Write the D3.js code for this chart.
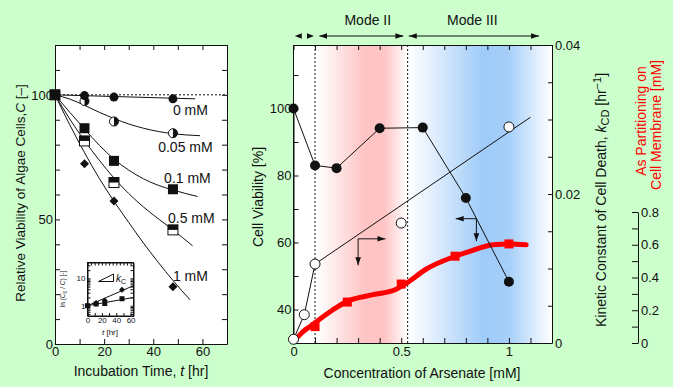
<!DOCTYPE html>
<html>
<head>
<meta charset="utf-8">
<script src="https://cdn.jsdelivr.net/npm/d3@7"></script>
<style>
body { margin: 0; background: #ccffcc; }
svg text { font-family: "Liberation Sans", Arial, sans-serif; fill: #111; }
</style>
</head>
<body>
<svg id="chart" width="673" height="387"></svg>
<script>
// ---- left panel: viability vs incubation time ----
const incubationTimes = [0, 12, 24, 48];
const viab0mM = [100, 99.7, 99.1, 98.4];
const viab005mM = [100, 97.5, 89.3, 84.6];
const viab01mM = [100, 86.6, 73.5, 62.1];
const viab05mM = [100, 81.5, 64.8, 45.8];
const viab1mM = [100, 72.3, 57.4, 23];

// fitted curves as [t, C]
const fit0mM = [[0, 100], [57, 98.4]];
const fit005mM = [[0, 100], [6, 98.3], [12, 95.8], [18, 93], [24, 90.5], [30, 88.3], [36, 86.6], [42, 85.3], [48, 84.4], [59, 83.6]];
const fit01mM = [[0, 100], [6, 93], [12, 86.3], [18, 79.8], [24, 74.2], [30, 69.8], [36, 66.3], [42, 63.7], [48, 61.8], [58, 59.2]];
const fit05mM = [[0, 100], [6, 90.3], [12, 81.6], [18, 73.8], [24, 66.6], [30, 60.4], [36, 55], [42, 50.3], [48, 45.8], [56, 39.4]];
const fit1mM = [[0, 100], [6, 88], [12, 76.8], [18, 66.5], [24, 57.3], [30, 48.8], [36, 40.5], [42, 32.8], [48, 25.5], [55, 17.7]];

const concLabels = ["0 mM", "0.05 mM", "0.1 mM", "0.5 mM", "1 mM"];
const concLabelPos = [[48, 92], [42, 77], [44.4, 64.7], [46, 48.6], [48, 25.3]];

// inset: ln(C0/C) vs t
const insetTimes = [0, 12, 24, 48];
const insetDiamond = [1, 1.25, 1.55, 3.8];
const insetSquare = [1, 1.15, 1.2, 1.8];
const insetLineDiamond = [[0, 1], [64, 5.4]];
const insetLineSquare = [[0, 1], [64, 2]];

// ---- right panel: vs arsenate concentration ----
const viabConc = [0, 0.1, 0.2, 0.4, 0.6, 0.8, 1.0];
const cellViability = [100, 83, 82.2, 94.1, 94.3, 73.3, 48.3];
const kcdConc = [0, 0.05, 0.1, 0.5, 1.0];
const kcdValues = [0.0005, 0.0038, 0.0106, 0.0161, 0.029];
const kcdFit = [[0.1, 0.0106], [1.1, 0.0303]];
const partConc = [0.1, 0.25, 0.5, 0.75, 1.0];
const partValues = [0.1, 0.25, 0.36, 0.53, 0.605];
const partCurve = [[0.015, 0.03], [0.046, 0.071], [0.077, 0.101], [0.108, 0.132], [0.18, 0.2], [0.247, 0.254], [0.37, 0.295], [0.479, 0.33], [0.525, 0.366], [0.617, 0.452], [0.741, 0.525], [0.818, 0.56], [0.926, 0.6], [1.0, 0.605], [1.08, 0.6]];
const modeBounds = [0.1, 0.53];

const svg = d3.select("#chart");
const defs = svg.append("defs");

defs.append("marker")
    .attr("id", "head")
    .attr("viewBox", "0 0 10 10")
    .attr("refX", 10).attr("refY", 5)
    .attr("markerWidth", 8).attr("markerHeight", 8)
    .attr("markerUnits", "userSpaceOnUse")
    .attr("orient", "auto-start-reverse")
    .append("path")
    .attr("d", "M0,1.5 L10,5 L0,8.5 Z")
    .attr("fill", "#111");

// ================= LEFT PANEL =================
const xL = d3.scaleLinear().domain([0, 70]).range([55, 227]);
const yL = d3.scaleLinear().domain([0, 120]).range([344, 45]);

svg.append("rect")
    .attr("x", 55).attr("y", 45)
    .attr("width", 172).attr("height", 299)
    .attr("fill", "white");

const leftG = svg.append("g");

leftG.append("g")
    .attr("transform", "translate(0,344)")
    .call(d3.axisBottom(xL).tickValues(d3.range(0, 71, 10)).tickSizeInner(-5).tickSizeOuter(0).tickPadding(3)
        .tickFormat(d => (d % 20 === 0 && d < 70) ? d : ""));
leftG.append("g")
    .attr("transform", "translate(0,45)")
    .call(d3.axisTop(xL).tickValues(d3.range(0, 71, 10)).tickSizeInner(-5).tickSizeOuter(0).tickFormat(""));
leftG.append("g")
    .attr("transform", "translate(55,0)")
    .call(d3.axisLeft(yL).tickValues(d3.range(0, 121, 10)).tickSizeInner(-5).tickSizeOuter(0).tickPadding(2)
        .tickFormat(d => d % 50 === 0 && d < 120 ? d : ""));
leftG.append("g")
    .attr("transform", "translate(227,0)")
    .call(d3.axisRight(yL).tickValues(d3.range(0, 121, 10)).tickSizeInner(-5).tickSizeOuter(0).tickFormat(""));

leftG.selectAll(".tick text").style("font-size", "13px").attr("fill", "#111");
leftG.selectAll(".domain, .tick line").attr("stroke", "#111");

// dashed 100 % line
leftG.append("line")
    .attr("x1", xL(0)).attr("x2", xL(70))
    .attr("y1", yL(100)).attr("y2", yL(100))
    .attr("stroke", "#111").attr("stroke-dasharray", "2,2");

const lineL = d3.line().x(d => xL(d[0])).y(d => yL(d[1])).curve(d3.curveMonotoneX);
[fit0mM, fit005mM, fit01mM, fit05mM, fit1mM].forEach(fit => {
    leftG.append("path")
        .attr("d", lineL(fit))
        .attr("fill", "none")
        .attr("stroke", "#111")
        .attr("stroke-width", 1);
});

// markers
function drawMarkers(g, values, kind) {
    const pts = incubationTimes.map((t, i) => [xL(t), yL(values[i])]);
    const m = g.selectAll(null).data(pts).enter().append("g")
        .attr("transform", d => `translate(${d[0]},${d[1]})`);
    if (kind === "circle") {
        m.append("circle").attr("r", 4.5).attr("fill", "#111");
    } else if (kind === "halfcircle") {
        m.append("circle").attr("r", 4.5).attr("fill", "white").attr("stroke", "#111");
        m.append("path").attr("d", "M0,-4.5 A4.5,4.5 0 0 1 0,4.5 Z").attr("fill", "#111");
    } else if (kind === "square") {
        m.append("rect").attr("x", -5).attr("y", -5).attr("width", 10).attr("height", 10).attr("fill", "#111");
    } else if (kind === "halfsquare") {
        m.append("rect").attr("x", -5).attr("y", -5).attr("width", 10).attr("height", 10)
            .attr("fill", "white").attr("stroke", "#111");
        m.append("rect").attr("x", -5).attr("y", -5).attr("width", 10).attr("height", 5).attr("fill", "#111");
    } else if (kind === "diamond") {
        m.append("path").attr("d", "M0,-4.5 L4.5,0 L0,4.5 L-4.5,0 Z").attr("fill", "#111");
    }
}
drawMarkers(leftG, viab1mM, "diamond");
drawMarkers(leftG, viab05mM, "halfsquare");
drawMarkers(leftG, viab005mM, "halfcircle");
drawMarkers(leftG, viab0mM, "circle");
drawMarkers(leftG, viab01mM, "square");

leftG.selectAll(null).data(concLabels).enter().append("text")
    .attr("x", (d, i) => xL(concLabelPos[i][0]))
    .attr("y", (d, i) => yL(concLabelPos[i][1]))
    .style("font-size", "14px")
    .text(d => d);

// ---- inset ----
const xI = d3.scaleLinear().domain([0, 64]).range([87.5, 133.5]);
const yI = d3.scaleLog().domain([0.42, 38]).range([316, 262.5]);
const inset = svg.append("g");
inset.append("rect")
    .attr("x", 87.5).attr("y", 262.5).attr("width", 46).attr("height", 53.5)
    .attr("fill", "white").attr("stroke", "#111");

const logTicks = [0.5, 0.6, 0.7, 0.8, 0.9, 1, 2, 3, 4, 5, 6, 7, 8, 9, 10, 20, 30];
inset.append("g").attr("transform", "translate(87.5,0)")
    .call(d3.axisLeft(yI).tickValues(logTicks).tickSizeInner(-3).tickSizeOuter(0).tickPadding(2)
        .tickFormat(d => (d === 1 || d === 10) ? d : ""));
inset.append("g").attr("transform", "translate(133.5,0)")
    .call(d3.axisRight(yI).tickValues(logTicks).tickSizeInner(-3).tickSizeOuter(0).tickFormat(""));
inset.append("g").attr("transform", "translate(0,316)")
    .call(d3.axisBottom(xI).tickValues(d3.range(0, 61, 10)).tickSizeInner(-3).tickSizeOuter(0).tickPadding(1)
        .tickFormat(d => d % 20 === 0 ? d : ""));
inset.append("g").attr("transform", "translate(0,262.5)")
    .call(d3.axisTop(xI).tickValues(d3.range(0, 61, 5)).tickSizeInner(-3).tickSizeOuter(0).tickFormat(""));
inset.selectAll(".tick text").style("font-size", "8px").attr("fill", "#111");
inset.selectAll(".domain, .tick line").attr("stroke", "#111");

const lineI = d3.line().x(d => xI(d[0])).y(d => yI(d[1]));
[insetLineDiamond, insetLineSquare].forEach(l => {
    inset.append("path").attr("d", lineI(l)).attr("fill", "none").attr("stroke", "#111");
});
inset.selectAll(null).data(insetTimes).enter().append("rect")
    .attr("x", (d, i) => xI(d) - 2.5).attr("y", (d, i) => yI(insetSquare[i]) - 2.5)
    .attr("width", 5).attr("height", 5).attr("fill", "#111");
inset.selectAll(null).data(insetTimes).enter().append("path")
    .attr("transform", (d, i) => `translate(${xI(d)},${yI(insetDiamond[i])})`)
    .attr("d", "M0,-3 L3,0 L0,3 L-3,0 Z").attr("fill", "#111");

inset.append("path")
    .attr("d", "M98.5,281.5 L113.5,281.5 L113.5,274 Z")
    .attr("fill", "none").attr("stroke", "#111");
const kc = inset.append("text").attr("x", 116).attr("y", 282).style("font-size", "10px");
kc.append("tspan").style("font-style", "italic").text("k");
kc.append("tspan").attr("dy", 2).style("font-size", "7px").text("C");

const insetY = inset.append("text")
    .attr("transform", "translate(65,289) rotate(-90)")
    .attr("text-anchor", "middle")
    .style("font-size", "6.5px");
insetY.append("tspan").text("ln (");
insetY.append("tspan").style("font-style", "italic").text("C");
insetY.append("tspan").attr("dy", 1.5).style("font-size", "5px").text("0");
insetY.append("tspan").attr("dy", -1.5).text(" / ");
insetY.append("tspan").style("font-style", "italic").text("C");
insetY.append("tspan").text(") [-]");

const insetX = inset.append("text").attr("x", 110).attr("y", 335)
    .attr("text-anchor", "middle").style("font-size", "8px");
insetX.append("tspan").style("font-style", "italic").text("t");
insetX.append("tspan").text(" [hr]");

// left titles
const yTitleL = svg.append("text")
    .attr("transform", "translate(25,193) rotate(-90)")
    .attr("text-anchor", "middle")
    .style("font-size", "13.5px");
yTitleL.append("tspan").text("Relative Viability of Algae Cells,");
yTitleL.append("tspan").style("font-style", "italic").text("C");
yTitleL.append("tspan").text("  [\u2013]");

const xTitleL = svg.append("text")
    .attr("x", 141).attr("y", 376)
    .attr("text-anchor", "middle")
    .style("font-size", "14px");
xTitleL.append("tspan").text("Incubation Time,   ");
xTitleL.append("tspan").style("font-style", "italic").text("t");
xTitleL.append("tspan").text(" [hr]");

// ================= RIGHT PANEL =================
const xR = d3.scaleLinear().domain([0, 1.2]).range([293.5, 552]);
const yR = d3.scaleLinear().domain([30, 100]).range([343, 108.5]);
const yK = d3.scaleLinear().domain([0, 0.04]).range([343, 45]);
const yP = d3.scaleLinear().domain([0, 0.8]).range([343, 212]);

const grad = defs.append("linearGradient")
    .attr("id", "modes")
    .attr("gradientUnits", "userSpaceOnUse")
    .attr("x1", xR(0)).attr("x2", xR(1.2))
    .attr("y1", 0).attr("y2", 0);
[[0, "#ffffff"], [0.11, "#ffffff"], [0.33, "#ffc4c4"], [0.42, "#ffc4c4"], [0.53, "#ffffff"],
 [0.6, "#eef5fe"], [0.88, "#9fcbf9"], [1.0, "#a6cff9"], [1.2, "#ffffff"]].forEach(s => {
    grad.append("stop").attr("offset", s[0] / 1.2).attr("stop-color", s[1]);
});

svg.append("rect")
    .attr("x", xR(0)).attr("y", 45)
    .attr("width", xR(1.2) - xR(0)).attr("height", 298)
    .attr("fill", "url(#modes)");

const rightG = svg.append("g");

modeBounds.forEach(b => {
    rightG.append("line")
        .attr("x1", xR(b)).attr("x2", xR(b))
        .attr("y1", 45).attr("y2", 343)
        .attr("stroke", "#111").attr("stroke-dasharray", "2,2");
});

rightG.append("g").attr("transform", "translate(0,343)")
    .call(d3.axisBottom(xR).tickValues(d3.range(0, 13).map(i => i / 10)).tickSizeInner(-5).tickSizeOuter(0).tickPadding(4)
        .tickFormat(d => (Math.abs(d - 0) < 1e-9 || Math.abs(d - 0.5) < 1e-9 || Math.abs(d - 1) < 1e-9) ? d3.format("")(+d.toFixed(1)) : ""));
rightG.append("g").attr("transform", "translate(0,45)")
    .call(d3.axisTop(xR).tickValues(d3.range(0, 13).map(i => i / 10)).tickSizeInner(-5).tickSizeOuter(0).tickFormat(""));
rightG.append("g").attr("transform", `translate(${xR(0)},0)`)
    .call(d3.axisLeft(yR).tickValues(d3.range(40, 111, 10)).tickSizeInner(-5).tickSizeOuter(0).tickPadding(2)
        .tickFormat(d => d % 20 === 0 ? d : ""));
rightG.append("g").attr("transform", `translate(${xR(1.2)},0)`)
    .call(d3.axisRight(yK).tickValues(d3.range(0, 9).map(i => i * 0.005)).tickSizeInner(-4).tickSizeOuter(0).tickPadding(3)
        .tickFormat(d => [0, 0.02, 0.04].some(v => Math.abs(v - d) < 1e-9) ? (d === 0 ? "0" : d3.format(".2f")(d)) : ""));
rightG.append("line")
    .attr("x1", xR(0)).attr("x2", xR(0)).attr("y1", 45).attr("y2", 343)
    .attr("stroke", "#111");

rightG.selectAll(".tick text").style("font-size", "13px").attr("fill", "#111");
rightG.selectAll(".domain, .tick line").attr("stroke", "#111");

// red partition axis
const partAxis = svg.append("g").attr("transform", "translate(638,0)")
    .call(d3.axisRight(yP).tickValues(d3.range(0, 9).map(i => i / 10)).tickSizeInner(-6).tickSizeOuter(0).tickPadding(3)
        .tickFormat(d => Math.round(d * 10) % 2 === 0 ? (d === 0 ? "0" : d3.format(".1f")(d)) : ""));
partAxis.selectAll(".tick text").style("font-size", "13px").attr("fill", "#111");
partAxis.selectAll(".domain, .tick line").attr("stroke", "#111");

// red partition curve + squares
rightG.append("path")
    .attr("d", d3.line().x(d => xR(d[0])).y(d => yP(d[1])).curve(d3.curveMonotoneX)(partCurve))
    .attr("fill", "none").attr("stroke", "#ff0000").attr("stroke-width", 5).attr("stroke-linecap", "round");
rightG.selectAll(null).data(partConc).enter().append("rect")
    .attr("x", d => xR(d) - 4.5).attr("y", (d, i) => yP(partValues[i]) - 4.5)
    .attr("width", 9).attr("height", 9).attr("fill", "#ff0000");

// kCD: line + fit
const lineK = d3.line().x(d => xR(d[0])).y(d => yK(d[1]));
rightG.append("path")
    .attr("d", lineK(kcdConc.slice(0, 3).map((c, i) => [c, kcdValues[i]])))
    .attr("fill", "none").attr("stroke", "#111");
rightG.append("path")
    .attr("d", lineK(kcdFit))
    .attr("fill", "none").attr("stroke", "#111");

// viability polyline
const lineV = d3.line().x(d => xR(d[0])).y(d => yR(d[1]));
rightG.append("path")
    .attr("d", lineV(viabConc.map((c, i) => [c, cellViability[i]])))
    .attr("fill", "none").attr("stroke", "#111");

rightG.selectAll(null).data(kcdConc).enter().append("circle")
    .attr("cx", d => xR(d)).attr("cy", (d, i) => yK(kcdValues[i]))
    .attr("r", 5).attr("fill", "white").attr("stroke", "#111");
rightG.selectAll(null).data(viabConc).enter().append("circle")
    .attr("cx", d => xR(d)).attr("cy", (d, i) => yR(cellViability[i]))
    .attr("r", 5).attr("fill", "#111");

// axis pointer arrows
function pointer(cx, cy, toX, toY) {
    rightG.append("line")
        .attr("x1", xR(cx)).attr("y1", yR(cy)).attr("x2", xR(toX)).attr("y2", yR(cy))
        .attr("stroke", "#111").attr("marker-end", "url(#head)");
    rightG.append("line")
        .attr("x1", xR(cx)).attr("y1", yR(cy)).attr("x2", xR(cx)).attr("y2", yR(toY))
        .attr("stroke", "#111").attr("marker-end", "url(#head)");
}
pointer(0.3, 61.1, 0.427, 53.2);
pointer(0.849, 67.1, 0.753, 60.4);

// mode arrows above the frame
const arrowY = 36;
svg.append("line")
    .attr("x1", xR(0.12)).attr("x2", xR(0.51)).attr("y1", arrowY).attr("y2", arrowY)
    .attr("stroke", "#111").attr("marker-start", "url(#head)").attr("marker-end", "url(#head)");
svg.append("line")
    .attr("x1", xR(0.535)).attr("x2", xR(1.14)).attr("y1", arrowY).attr("y2", arrowY)
    .attr("stroke", "#111").attr("marker-start", "url(#head)").attr("marker-end", "url(#head)");
svg.append("path")
    .attr("d", `M${xR(0.006)},${arrowY} l7,-2.8 l0,5.6 Z M${xR(0.095)},${arrowY} l-7,-2.8 l0,5.6 Z`)
    .attr("fill", "#111");

svg.append("text").attr("x", xR(0.345)).attr("y", 25)
    .attr("text-anchor", "middle").style("font-size", "14px").text("Mode II");
svg.append("text").attr("x", xR(0.83)).attr("y", 25)
    .attr("text-anchor", "middle").style("font-size", "14px").text("Mode III");

// right titles
svg.append("text")
    .attr("transform", "translate(263,197) rotate(-90)")
    .attr("text-anchor", "middle")
    .style("font-size", "14px")
    .text("Cell Viability [%]");

svg.append("text")
    .attr("x", 422).attr("y", 378)
    .attr("text-anchor", "middle")
    .style("font-size", "14px")
    .text("Concentration of Arsenate [mM]");

const kTitle = svg.append("text")
    .attr("transform", "translate(606,200) rotate(-90)")
    .attr("text-anchor", "middle")
    .style("font-size", "14px");
kTitle.append("tspan").text("Kinetic Constant of Cell Death, ");
kTitle.append("tspan").style("font-style", "italic").text("k");
kTitle.append("tspan").attr("dy", 3).style("font-size", "11px").text("CD");
kTitle.append("tspan").attr("dy", -3).text(" [hr");
kTitle.append("tspan").attr("dy", -5).style("font-size", "11px").text("\u22121");
kTitle.append("tspan").attr("dy", 5).text("]");

svg.append("text")
    .attr("transform", "translate(646,121) rotate(-90)")
    .attr("text-anchor", "middle")
    .style("font-size", "14px")
    .style("fill", "#ff0000")
    .text("As Partitioning on");
svg.append("text")
    .attr("transform", "translate(661,125) rotate(-90)")
    .attr("text-anchor", "middle")
    .style("font-size", "14px")
    .style("fill", "#ff0000")
    .text("Cell Membrane  [mM]");
</script>
</body>
</html>
